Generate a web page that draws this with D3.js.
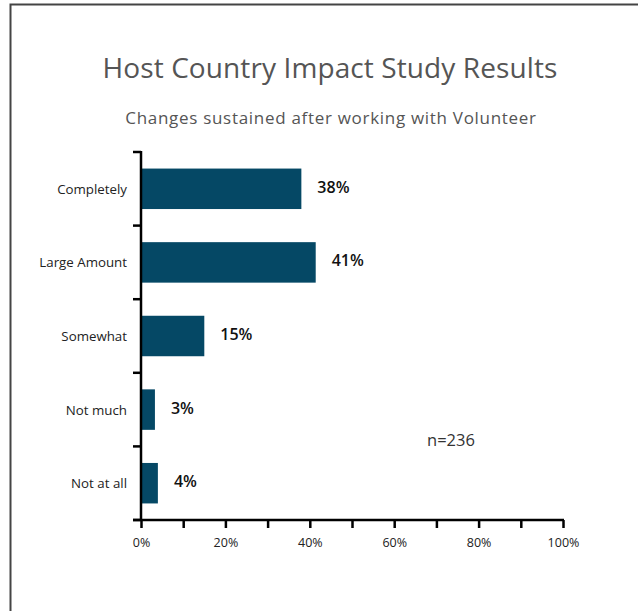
<!DOCTYPE html>
<html>
<head>
<meta charset="utf-8">
<script src="https://cdn.jsdelivr.net/npm/d3@7"></script>
<style>
body { margin: 0; background: #fff; }
svg text { font-family: "Open Sans", "Noto Sans", sans-serif; }
</style>
</head>
<body>
<script>
var categories = ["Completely", "Large Amount", "Somewhat", "Not much", "Not at all"];
var values = [38, 41.4, 15, 3.3, 4];
var valueLabels = ["38%", "41%", "15%", "3%", "4%"];
var xTicks = [0, 10, 20, 30, 40, 50, 60, 70, 80, 90, 100];
var title = "Host Country Impact Study Results";
var subtitle = "Changes sustained after working with Volunteer";
var note = "n=236";

var width = 638, height = 611;

var svg = d3.select("body").append("svg")
	.attr("width", width)
	.attr("height", height);

// frame (left + top only visible)
svg.append("path")
	.attr("d", "M10.5,611 V4.5 H638")
	.attr("fill", "none")
	.attr("stroke", "#444")
	.attr("stroke-width", 2);

svg.append("text")
	.attr("x", 330).attr("y", 78)
	.attr("text-anchor", "middle")
	.attr("fill", "#555")
	.style("font-size", "28px")
	.style("letter-spacing", "0.1px")
	.text(title);

svg.append("text")
	.attr("x", 331).attr("y", 124)
	.attr("text-anchor", "middle")
	.attr("fill", "#555")
	.style("font-size", "17px")
	.style("letter-spacing", "0.7px")
	.text(subtitle);

var x = d3.scaleLinear().domain([0, 100]).range([141, 563]);
var y = d3.scaleBand().domain(categories).range([152, 520])
	.paddingInner(0.45).paddingOuter(0.225);

var data = categories.map(function(c, i){
	return {cat: c, value: values[i], label: valueLabels[i]};
});

svg.append("g").selectAll("rect")
	.data(data)
	.enter()
	.append("rect")
	.attr("x", x(0))
	.attr("y", function(d){ return y(d.cat); })
	.attr("width", function(d){ return x(d.value) - x(0); })
	.attr("height", y.bandwidth())
	.attr("fill", "#054865");

svg.append("g").selectAll("text")
	.data(data)
	.enter()
	.append("text")
	.attr("x", function(d){ return x(d.value) + 16; })
	.attr("y", function(d){ return y(d.cat) + y.bandwidth()/2 + 4; })
	.attr("fill", "#111")
	.style("font-size", "16px")
	.style("font-weight", "600")
	.text(function(d){ return d.label; });

// y axis: line + ticks between bands
var yAxis = svg.append("g");
yAxis.append("line")
	.attr("x1", 141).attr("x2", 141)
	.attr("y1", 151).attr("y2", 521)
	.attr("stroke", "#000").attr("stroke-width", 2.5);
var bounds = [];
for (var i = 0; i <= categories.length; i++) bounds.push(i);
yAxis.selectAll("line.tk")
	.data(bounds)
	.enter()
	.append("line")
	.attr("class", "tk")
	.attr("x1", 133).attr("x2", 141)
	.attr("y1", function(d){ return y.range()[0] + d * (y.range()[1] - y.range()[0]) / categories.length; })
	.attr("y2", function(d){ return y.range()[0] + d * (y.range()[1] - y.range()[0]) / categories.length; })
	.attr("stroke", "#000").attr("stroke-width", 2.5);

yAxis.selectAll("text")
	.data(categories)
	.enter()
	.append("text")
	.attr("x", 127)
	.attr("y", function(d){ return y(d) + y.bandwidth()/2 + 5; })
	.attr("text-anchor", "end")
	.attr("fill", "#222")
	.style("font-size", "13.3px")
	.text(function(d){ return d; });

// x axis
var xAxis = svg.append("g")
	.attr("transform", "translate(0,520)")
	.call(d3.axisBottom(x).tickValues(xTicks).tickSize(8)
		.tickFormat(function(d){ return d % 20 === 0 ? d + "%" : ""; }));
xAxis.select(".domain")
	.attr("d", "M133,0 H" + (x(100) + 1))
	.attr("stroke", "#000").attr("stroke-width", 2.5);
xAxis.selectAll(".tick line").attr("stroke", "#000").attr("stroke-width", 2.5);
xAxis.selectAll(".tick text")
	.attr("y", 18)
	.attr("fill", "#222")
	.style("font-size", "12.5px")
	.style("font-family", "'Open Sans', sans-serif");

svg.append("text")
	.attr("x", 451).attr("y", 446)
	.attr("text-anchor", "middle")
	.attr("fill", "#333")
	.style("font-size", "16.5px")
	.text(note);
</script>
</body>
</html>
